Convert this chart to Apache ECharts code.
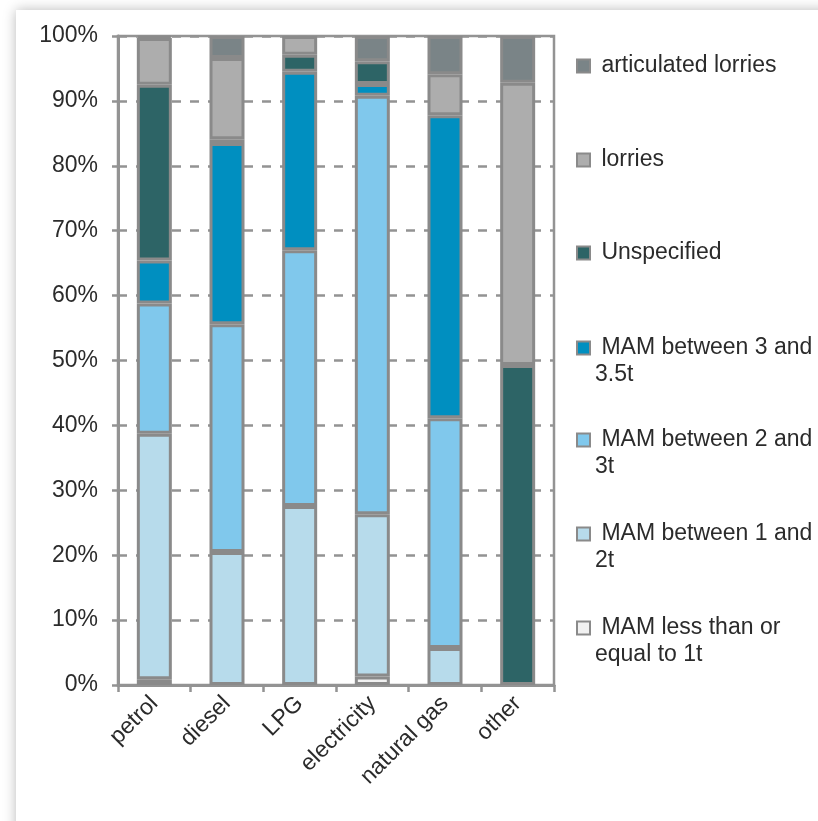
<!DOCTYPE html>
<html>
<head>
<meta charset="utf-8">
<title>Vans by fuel type and maximum authorised mass</title>
<script src="https://cdn.jsdelivr.net/npm/echarts@6/dist/echarts.min.js"></script>
<style>
  html, body { margin: 0; padding: 0; background: #ffffff; }
  #panel {
    position: absolute; left: 16px; top: 10px; width: 830px; height: 840px;
    background: #ffffff; box-shadow: 0 0 12px rgba(0, 0, 0, 0.28);
  }
  #chart { position: absolute; left: 0; top: 0; width: 818px; height: 821px; }
</style>
</head>
<body>
<div id="panel"></div>
<div id="chart"></div>
<script>
// Fuel types along the x axis
const categories = ['petrol', 'diesel', 'LPG', 'electricity', 'natural gas', 'other'];

// Share of each mass class per fuel type (%), stacked from bottom to top
const mamUpTo1t   = [0.9, 0, 0, 1.3, 0, 0];
const mam1to2t    = [37.8, 20.5, 27.6, 25.0, 5.7, 0];
const mam2to3t    = [20.1, 35.1, 39.4, 64.5, 35.4, 0];
const mam3to35t   = [6.6, 27.9, 27.5, 1.8, 46.7, 0];
const unspecified = [27.1, 0.6, 2.6, 3.5, 0, 49.3];
const lorries     = [7.2, 12.5, 2.9, 0, 6.3, 43.5];
const articulated = [0.3, 3.4, 0, 3.9, 5.9, 7.2];

// Y axis range and step (percent)
const yMin = 0, yMax = 100, yStep = 10;

const FONT = '"Liberation Sans", Arial, sans-serif';
const TEXT = '#2b2b2b';
const LINE = '#939393';
const EDGE = '#8a8a8a';

const seriesDefs = [
  { name: 'MAM less than or equal to 1t', data: mamUpTo1t,   color: '#f1f1f1', label: ['MAM less than or', 'equal to 1t'], y: 628 },
  { name: 'MAM between 1 and 2t',         data: mam1to2t,    color: '#b7dbeb', label: ['MAM between 1 and', '2t'], y: 534 },
  { name: 'MAM between 2 and 3t',         data: mam2to3t,    color: '#80c8ec', label: ['MAM between 2 and', '3t'], y: 440 },
  { name: 'MAM between 3 and 3.5t',       data: mam3to35t,   color: '#008fc0', label: ['MAM between 3 and', '3.5t'], y: 348 },
  { name: 'Unspecified',                  data: unspecified, color: '#2d6466', label: ['Unspecified'], y: 253 },
  { name: 'lorries',                      data: lorries,     color: '#adadad', label: ['lorries'], y: 160 },
  { name: 'articulated lorries',          data: articulated, color: '#7a8487', label: ['articulated lorries'], y: 66 }
];

const LH = 27;

const series = seriesDefs.map(d => ({
  name: d.name,
  type: 'bar',
  stack: 'share',
  barWidth: 35,
  data: d.data.map(v => (v === 0 ? null : v)),
  itemStyle: { color: d.color, borderColor: EDGE, borderWidth: 3 },
  emphasis: { disabled: true }
}));

// One legend block per series so each entry sits at its own height
const legends = seriesDefs.map(d => {
  const lines = d.label.length;
  const text = lines === 1 ? ' ' + d.label[0] : '\n ' + d.label[0] + '\n' + d.label[1];
  const blockLines = lines === 1 ? 1 : 3;
  return {
    data: [d.name],
    orient: 'vertical',
    left: 576,
    top: d.y - (blockLines * LH) / 2,
    padding: 0,
    itemGap: 0,
    itemWidth: 13,
    itemHeight: 13,
    icon: 'rect',
    selectedMode: false,
    formatter: () => text,
    itemStyle: { borderColor: EDGE, borderWidth: 2 },
    textStyle: { fontFamily: FONT, fontSize: 23, lineHeight: LH, color: TEXT }
  };
});

const chart = echarts.init(document.getElementById('chart'), null, { renderer: 'canvas' });
chart.setOption({
  backgroundColor: 'transparent',
  animation: false,
  grid: {
    left: 118, right: 264, top: 36, bottom: 136,
    show: true, borderColor: LINE, borderWidth: 2.5, backgroundColor: 'transparent'
  },
  legend: legends,
  xAxis: {
    type: 'category',
    data: categories,
    boundaryGap: true,
    axisLine: { show: true, lineStyle: { color: LINE, width: 3 } },
    axisTick: { show: true, alignWithLabel: false, length: 7, lineStyle: { color: LINE, width: 2.5 } },
    axisLabel: { rotate: 45, margin: 15, fontFamily: FONT, fontSize: 23, color: TEXT, interval: 0 }
  },
  yAxis: {
    type: 'value',
    min: yMin, max: yMax, interval: yStep,
    axisLine: { show: true, lineStyle: { color: LINE, width: 3 } },
    axisTick: { show: true, length: 6, lineStyle: { color: LINE, width: 2.5 } },
    axisLabel: { formatter: '{value}%', margin: 20, fontFamily: FONT, fontSize: 23, color: TEXT },
    splitLine: { show: true, lineStyle: { color: LINE, width: 2.5, type: [9, 9] } }
  },
  series: series
});
</script>
</body>
</html>
